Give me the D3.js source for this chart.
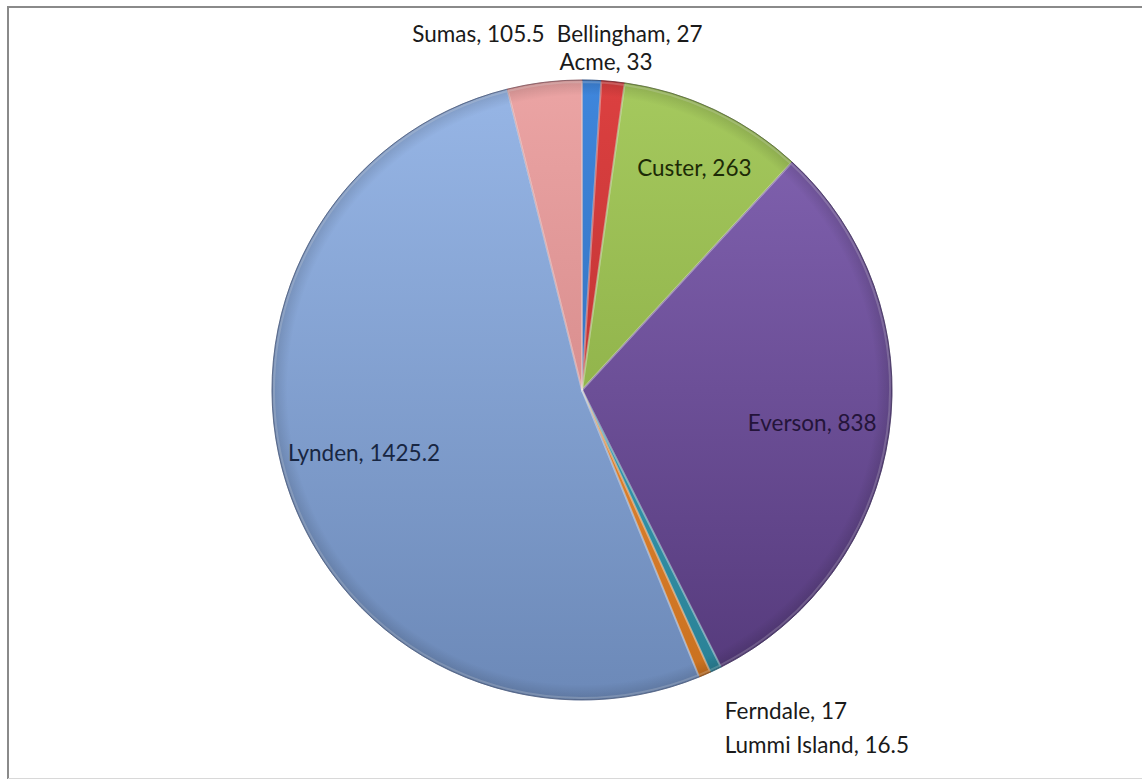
<!DOCTYPE html>
<html>
<head>
<meta charset="utf-8">
<script src="https://cdn.jsdelivr.net/npm/d3@7/dist/d3.min.js"></script>
<style>
  html, body { margin: 0; padding: 0; background: #fff; }
  svg { display: block; }
</style>
</head>
<body>
<svg id="chart" width="1142" height="780"></svg>
<script>
// ---- data ----
const categories = ["Bellingham", "Acme", "Custer", "Everson", "Lummi Island", "Ferndale", "Lynden", "Sumas"];
const values     = [27, 33, 263, 838, 16.5, 17, 1425.2, 105.5];
const labelTexts = ["Bellingham, 27", "Acme, 33", "Custer, 263", "Everson, 838", "Lummi Island, 16.5", "Ferndale, 17", "Lynden, 1425.2", "Sumas, 105.5"];

// ---- styles ----
const topColors    = ["#3f86dc", "#dc4040", "#a5c95e", "#8465b4", "#3fb0c8", "#f79646", "#97b6e6", "#eba4a4"];
const bottomColors = ["#2d63a8", "#a82a2a", "#7fa03a", "#54397a", "#2a7f94", "#c8701e", "#6c89b8", "#c87a7a"];
const textColors   = ["#1a1a1a", "#1a1a1a", "#1c2a06", "#24143a", "#1a1a1a", "#1a1a1a", "#182642", "#1a1a1a"];
// label placement: "in" = inside at fraction of radius (+ nudge); "out" = outside, offset from rim point
const labelMode = ["out", "out", "in", "in", "out", "out", "in", "out"];
const labelOffsets = [[38, -47, "middle"], [-7, -20, "middle"], [13, -12, "middle"], [0, 0, "middle"],
                      [9, 75, "start"], [20, 36, "start"], [3, -10, "middle"], [-66, -49, "middle"]];

const W = 1142, H = 780;
const cx = 582, cy = 390, R = 310;

const svg = d3.select("#chart");

// frame
svg.append("line").attr("x1", 8).attr("y1", 7).attr("x2", W).attr("y2", 7).attr("stroke", "#8a8a8a").attr("stroke-width", 2);
svg.append("line").attr("x1", 8).attr("y1", 6).attr("x2", 8).attr("y2", 779).attr("stroke", "#8a8a8a").attr("stroke-width", 2);
svg.append("line").attr("x1", 8).attr("y1", 778.5).attr("x2", W).attr("y2", 778.5).attr("stroke", "#d8d8d8").attr("stroke-width", 1);

const defs = svg.append("defs");
categories.forEach((c, i) => {
  const g = defs.append("linearGradient")
    .attr("id", "grad" + i)
    .attr("gradientUnits", "userSpaceOnUse")
    .attr("x1", 0).attr("y1", -R).attr("x2", 0).attr("y2", R);
  g.append("stop").attr("offset", "0%").attr("stop-color", topColors[i]);
  g.append("stop").attr("offset", "100%").attr("stop-color", bottomColors[i]);
});
// rim shading
const rg = defs.append("radialGradient").attr("id", "rim")
  .attr("gradientUnits", "userSpaceOnUse").attr("cx", 0).attr("cy", 0).attr("r", R);
rg.append("stop").attr("offset", "95%").attr("stop-color", "#000").attr("stop-opacity", 0);
rg.append("stop").attr("offset", "100%").attr("stop-color", "#000").attr("stop-opacity", 0.14);

const pie = d3.pie().sort(null).value(d => d)(values);
const arc = d3.arc().innerRadius(0).outerRadius(R);
const arcIn = d3.arc().innerRadius(R * 0.75).outerRadius(R * 0.75);

const g = svg.append("g").attr("transform", `translate(${cx},${cy})`);

g.selectAll("path.slice").data(pie).enter().append("path")
  .attr("class", "slice")
  .attr("d", arc)
  .attr("fill", (d, i) => `url(#grad${i})`)
  .attr("stroke", (d, i) => bottomColors[i])
  .attr("stroke-width", 0.8)
  .attr("stroke-linejoin", "round");

// bevel highlight along slice edges
g.selectAll("path.hl").data(pie).enter().append("path")
  .attr("class", "hl")
  .attr("d", d3.arc().innerRadius(0).outerRadius(R - 2))
  .attr("fill", "none")
  .attr("stroke", "#ffffff")
  .attr("stroke-opacity", 0.22)
  .attr("stroke-width", 2);

g.append("circle").attr("r", R).attr("fill", "url(#rim)").attr("pointer-events", "none");
g.append("circle").attr("r", R).attr("fill", "none").attr("stroke", "#3a3a4a").attr("stroke-opacity", 0.4).attr("stroke-width", 1);

// labels
g.selectAll("text.lbl").data(pie).enter().append("text")
  .attr("class", "lbl")
  .each(function(d, i) {
    const t = d3.select(this);
    const mid = (d.startAngle + d.endAngle) / 2;
    let x, y;
    if (labelMode[i] === "in") {
      [x, y] = arcIn.centroid(d);
    } else {
      x = R * Math.sin(mid);
      y = -R * Math.cos(mid);
    }
    x += labelOffsets[i][0];
    y += labelOffsets[i][1];
    t.attr("x", x).attr("y", y)
     .attr("text-anchor", labelOffsets[i][2])
     .attr("dominant-baseline", "central")
     .attr("fill", textColors[i])
     .text(labelTexts[i]);
  })
  .style("font-family", "Lato, 'Open Sans', sans-serif")
  .style("font-size", "22.5px");
</script>
</body>
</html>
